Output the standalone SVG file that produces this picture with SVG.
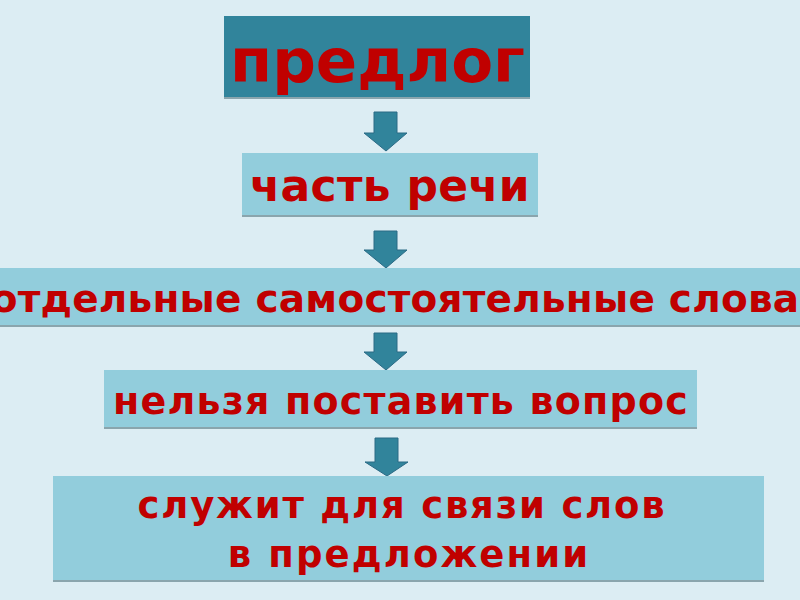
<svg xmlns="http://www.w3.org/2000/svg" width="800" height="600" viewBox="0 0 800 600">
<style>
.bg{fill:#dcedf3}
.box{fill:#92cddc}
.dark{fill:#31849b}
.sh{fill:#8aa5ad}
.arr{fill:#31849b;stroke:#2a6a85;stroke-width:1}
text{font-family:"DejaVu Sans","Verdana",sans-serif;font-weight:bold;fill:#c00000;text-anchor:middle}
</style>
<rect class="bg" x="0" y="0" width="800" height="600"/>
<g id="connectors">
<path class="arr" d="M374,112 H397 V133 H407 L386,151 L364,133 H374 Z"/>
<path class="arr" d="M374,231 H397 V250 H407 L386,268 L364,250 H374 Z"/>
<path class="arr" d="M374,333 H397 V352 H407 L386,370 L364,352 H374 Z"/>
<path class="arr" d="M375,438 H398 V462 H408 L387,476 L365,462 H375 Z"/>
</g>
<g id="n1">
<rect class="sh" x="224" y="16" width="306" height="83"/>
<rect class="dark" x="224" y="16" width="306" height="81"/>
<text x="377.5" y="82" style="font-size:61px">предлог</text>
</g>
<g id="n2">
<rect class="sh" x="242" y="153" width="296" height="64"/>
<rect class="box" x="242" y="153" width="296" height="62"/>
<text x="390" y="201" style="font-size:44px;letter-spacing:0.3px">часть речи</text>
</g>
<g id="n3">
<rect class="sh" x="0" y="268" width="800" height="59"/>
<rect class="box" x="0" y="268" width="800" height="57"/>
<text x="395" y="312" style="font-size:39px;letter-spacing:0.2px">отдельные самостоятельные слова</text>
</g>
<g id="n4">
<rect class="sh" x="104" y="370" width="593" height="59"/>
<rect class="box" x="104" y="370" width="593" height="57"/>
<text x="401" y="414" style="font-size:38px;letter-spacing:1.2px">нельзя поставить вопрос</text>
</g>
<g id="n5">
<rect class="sh" x="53" y="476" width="711" height="106"/>
<rect class="box" x="53" y="476" width="711" height="104"/>
<text x="402" y="518" style="font-size:37px;letter-spacing:1.8px">служит для связи слов</text>
<text x="409" y="567" style="font-size:37px;letter-spacing:2.1px">в предложении</text>
</g>
</svg>
